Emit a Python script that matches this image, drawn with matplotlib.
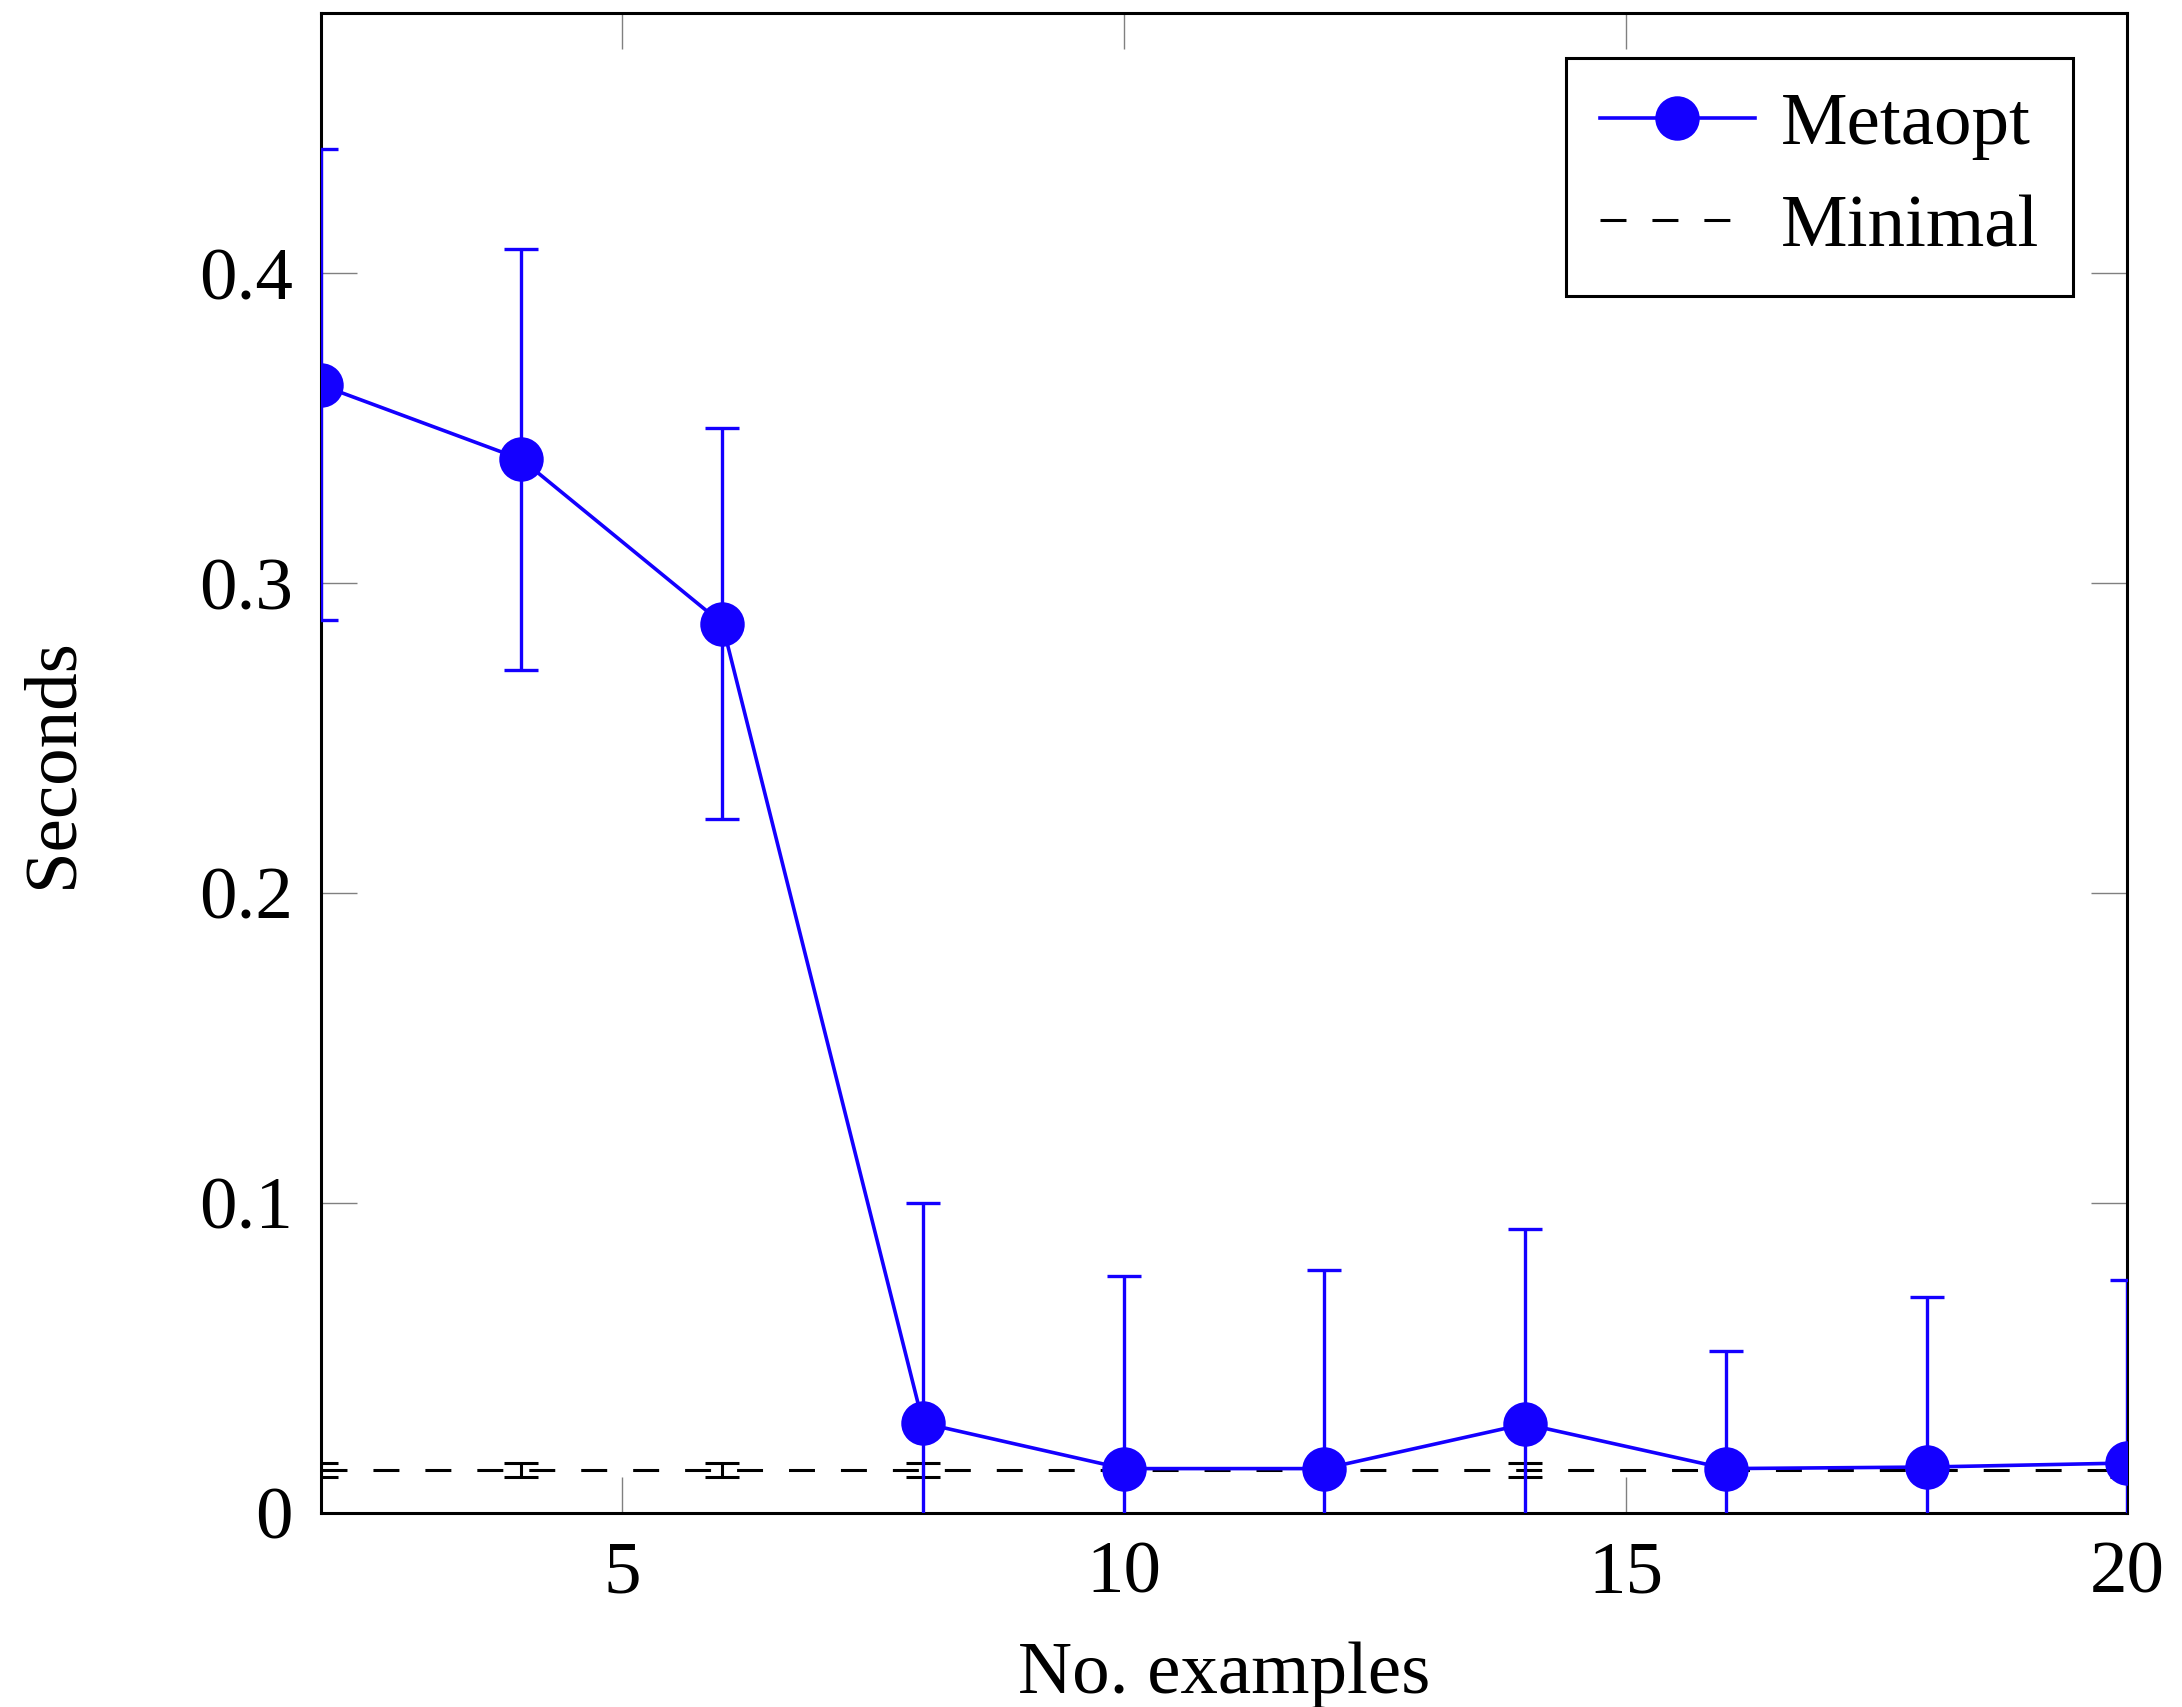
import matplotlib
matplotlib.use("Agg")
import matplotlib.pyplot as plt

# data
n_examples = [2, 4, 6, 8, 10, 12, 14, 16, 18, 20]
metaopt_mean = [0.364, 0.340, 0.287, 0.029, 0.0143, 0.0143, 0.0287, 0.0143, 0.0148, 0.0161]
metaopt_err = [0.076, 0.068, 0.063, 0.071, 0.062, 0.064, 0.063, 0.038, 0.055, 0.059]
minimal_mean = [0.0139] * 10
minimal_err = [0.0023] * 10

x_ticks = [5, 10, 15, 20]
y_ticks = [0, 0.1, 0.2, 0.3, 0.4]
y_ticklabels = ["0", "0.1", "0.2", "0.3", "0.4"]

plt.rcParams["font.family"] = ["Liberation Serif", "DejaVu Serif"]
plt.rcParams["font.size"] = 27

fig = plt.figure(figsize=(10.91, 8.535), dpi=200)
ax = fig.add_axes([0.147, 0.1137, 0.828, 0.8786])

ax.errorbar(n_examples, metaopt_mean, yerr=metaopt_err, color="#1400ff",
            marker="o", markersize=15, linewidth=1.3, elinewidth=1.2,
            capsize=6, capthick=1.2, label="Metaopt", zorder=3)
ax.errorbar(n_examples, minimal_mean, yerr=minimal_err, color="black",
            linestyle=(0, (8.5, 8.5)), linewidth=1.1, elinewidth=1.1,
            capsize=6, capthick=1.1, label="Minimal", zorder=2)

ax.set_xlim(2, 20)
ax.set_ylim(0, 0.484)
ax.set_xticks(x_ticks)
ax.set_yticks(y_ticks)
ax.set_yticklabels(y_ticklabels)
ax.tick_params(direction="in", length=13, width=0.5, color="#808080",
               top=True, right=True, pad=10)
for s in ax.spines.values():
    s.set_linewidth(1.1)

ax.set_xlabel("No. examples", labelpad=12)
ax.set_ylabel("Seconds", labelpad=40)

handles, labels = ax.get_legend_handles_labels()
handles = [h[0] for h in handles]
leg = ax.legend(handles, labels, loc="upper right", fancybox=False,
                edgecolor="black", framealpha=1, borderpad=0.45,
                handlelength=2.07, handletextpad=0.35, labelspacing=0.45,
                borderaxespad=0, bbox_to_anchor=(0.970, 0.970))
leg.get_frame().set_linewidth(1.1)

fig.savefig("out.png", dpi=200)
